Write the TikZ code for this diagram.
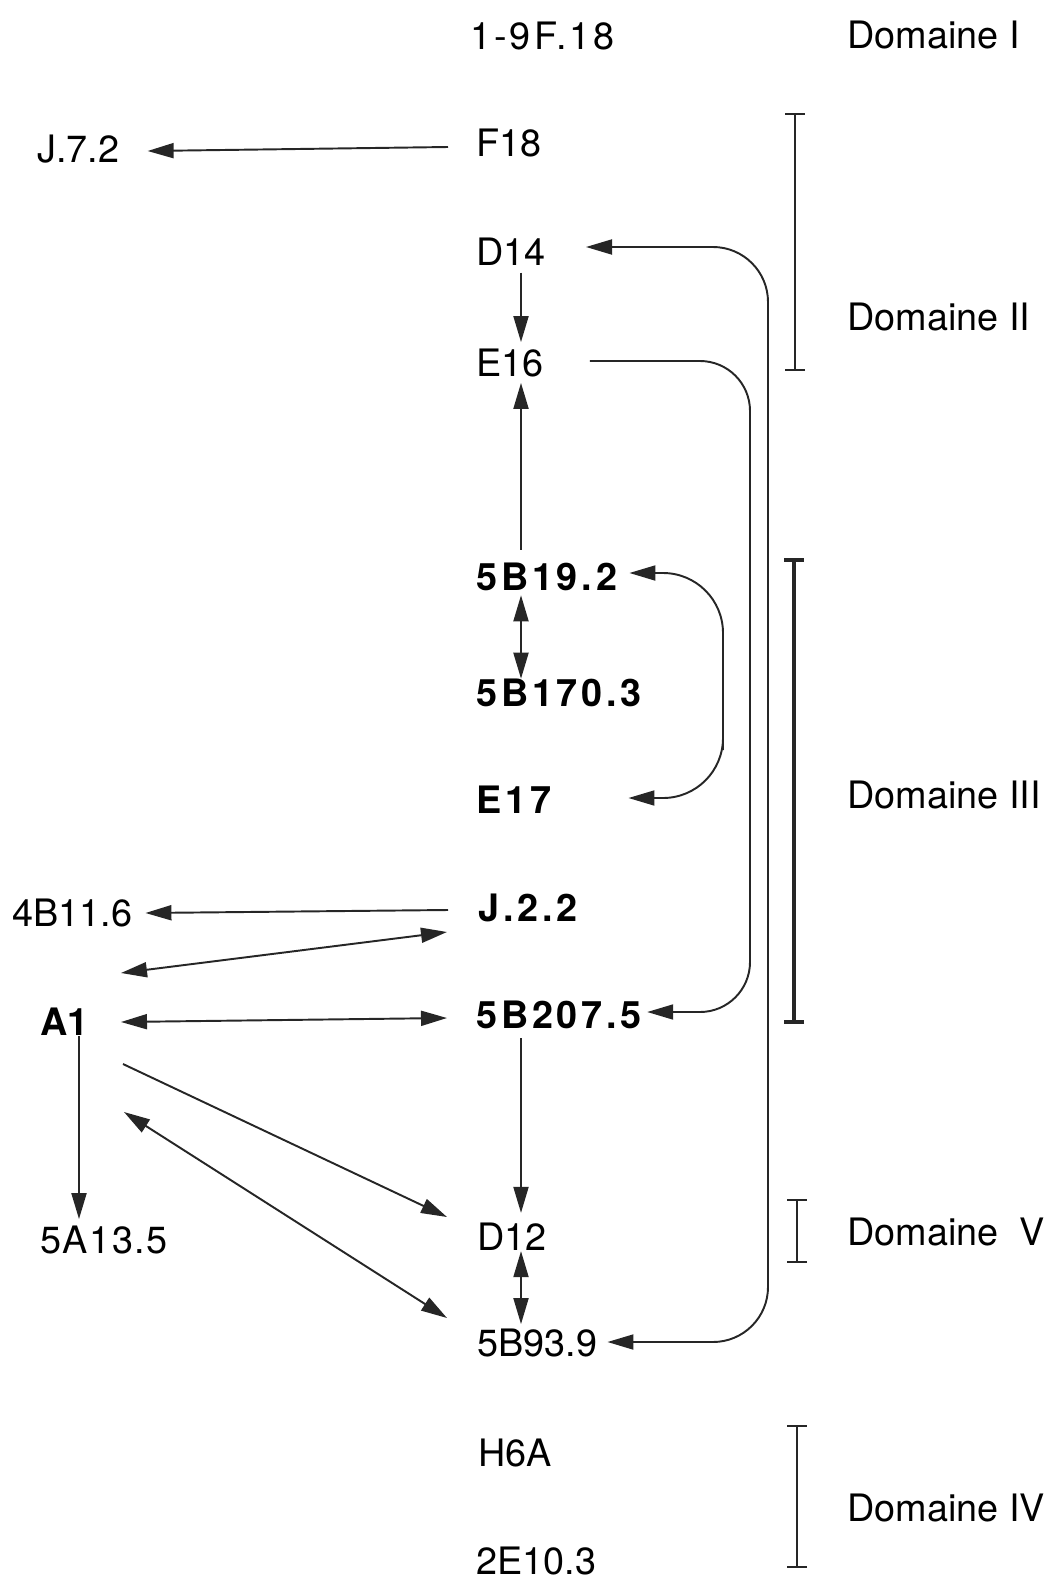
\documentclass[tikz,border=0pt]{standalone}
\usepackage{fontspec}
\setmainfont{TeX Gyre Heros}
\usetikzlibrary{arrows.meta}

\begin{document}
\begin{tikzpicture}[
    x=0.2mm, y=-0.2mm,
    lbl/.style={inner sep=0pt, anchor=west, font=\fontsize{21.5}{26}\selectfont},
    blbl/.style={lbl, font=\fontsize{21.5}{26}\selectfont\bfseries\addfontfeature{LetterSpace=10}},
    link/.style={-{Triangle[length=5.2mm, width=3mm]}, line width=1.1pt, black!85},
    both/.style={link, {Triangle[length=5.2mm, width=3mm]}-{Triangle[length=5.2mm, width=3mm]}},
    brk/.style={{Bar[width=4mm]}-{Bar[width=4mm]}, line width=1pt, black!85}
]
\useasboundingbox (0,0) rectangle (1056,1581);

% clones, central column
\node[lbl, font=\fontsize{21.5}{26}\selectfont\addfontfeature{LetterSpace=8}] (f918) at (470,36) {1-9F.18};
\node[lbl] (f18) at (476,143) {F18};
\node[lbl] (d14) at (476,252) {D14};
\node[lbl] (e16) at (476,363) {E16};
\node[blbl] (b192) at (476,577) {5B19.2};
\node[blbl] (b1703) at (476,693) {5B170.3};
\node[blbl] (e17) at (476,800) {E17};
\node[blbl] (j22) at (478,908) {J.2.2};
\node[blbl] (b2075) at (476,1015) {5B207.5};
\node[lbl] (d12) at (477,1237) {D12};
\node[lbl] (b939) at (477,1343) {5B93.9};
\node[lbl] (h6a) at (478,1453) {H6A};
\node[lbl] (e103) at (476,1561) {2E10.3};

% clones, left column
\node[lbl] (j72) at (37,149) {J.7.2};
\node[lbl] (b116) at (12,913) {4B11.6};
\node[lbl, font=\fontsize{21.5}{26}\selectfont\bfseries] (a1) at (40,1022) {A1};
\node[lbl, font=\fontsize{21.5}{26}\selectfont\addfontfeature{LetterSpace=4}] (a135) at (40,1240) {5A13.5};

% domains
\node[lbl] (dom1) at (847,35) {Domaine I};
\node[lbl] (dom2) at (847,317) {Domaine II};
\node[lbl] (dom3) at (847,795) {Domaine III};
\node[lbl] (dom5) at (847,1232) {Domaine\ \ V};
\node[lbl] (dom4) at (847,1508) {Domaine IV};

\draw[brk] (795,113) -- (795,371);
\draw[brk, line width=2pt] (794,558) -- (794,1024);
\draw[brk] (797,1199) -- (797,1263);
\draw[brk] (797,1425) -- (797,1568);

\coordinate (spine) at (521,0);
\coordinate (lspine) at (79,0);
\coordinate (railc) at (723,690);
\coordinate (raile) at (750,700);
\coordinate (raild) at (768,800);

% vertical arrows
\draw[link, shorten <=1.3mm, shorten >=1.3mm] (d14.south -| spine) -- (e16.north -| spine);
\draw[link, shorten <=2.6mm, shorten >=1.1mm] (b192.north -| spine) -- (e16.south -| spine);
\draw[both, shorten <=0.8mm] (b192.south -| spine) -- (b1703.north -| spine);
\draw[link, shorten <=1.8mm, shorten >=2mm] (b2075.south -| spine) -- (d12.north -| spine);
\draw[both, shorten >=0.9mm] (d12.south -| spine) -- (b939.north -| spine);
\draw[link, shorten >=1.3mm] (a1.south -| lspine) -- (a135.north -| lspine);

% horizontal and oblique arrows
\draw[link] ([shift={(-5.6mm,-0.8mm)}]f18.west) -- ([shift={(5.6mm,-0.4mm)}]j72.east);
\draw[link] ([shift={(-6mm,-0.4mm)}]j22.west) -- ([xshift=2.6mm]b116.east);
\draw[both] ([shift={(6.4mm,9.8mm)}]a1.east) -- ([shift={(-6.2mm,-4.8mm)}]j22.west);
\draw[both] ([xshift=6.4mm]a1.east) -- ([shift={(-5.8mm,-0.6mm)}]b2075.west);
\draw[link] ([shift={(6.8mm,-8.4mm)}]a1.east) -- ([shift={(-6mm,4mm)}]d12.west);
\draw[both] ([shift={(7mm,-18mm)}]a1.east) -- ([shift={(-6mm,5mm)}]b939.west);

% loops on the right
\draw[both, rounded corners=12mm] ([shift={(2.4mm,0.8mm)}]b192.east) -| (railc) |- ([shift={(15.4mm,0.4mm)}]e17.east);
\draw[link, rounded corners=10mm] ([shift={(9.2mm,0.4mm)}]e16.east) -| (raile) |- ([shift={(1mm,0.6mm)}]b2075.east);
\draw[both, rounded corners=11mm] ([shift={(8mm,1mm)}]d14.east) -| (raild) |- ([shift={(2mm,0.2mm)}]b939.east);
\end{tikzpicture}
\end{document}
